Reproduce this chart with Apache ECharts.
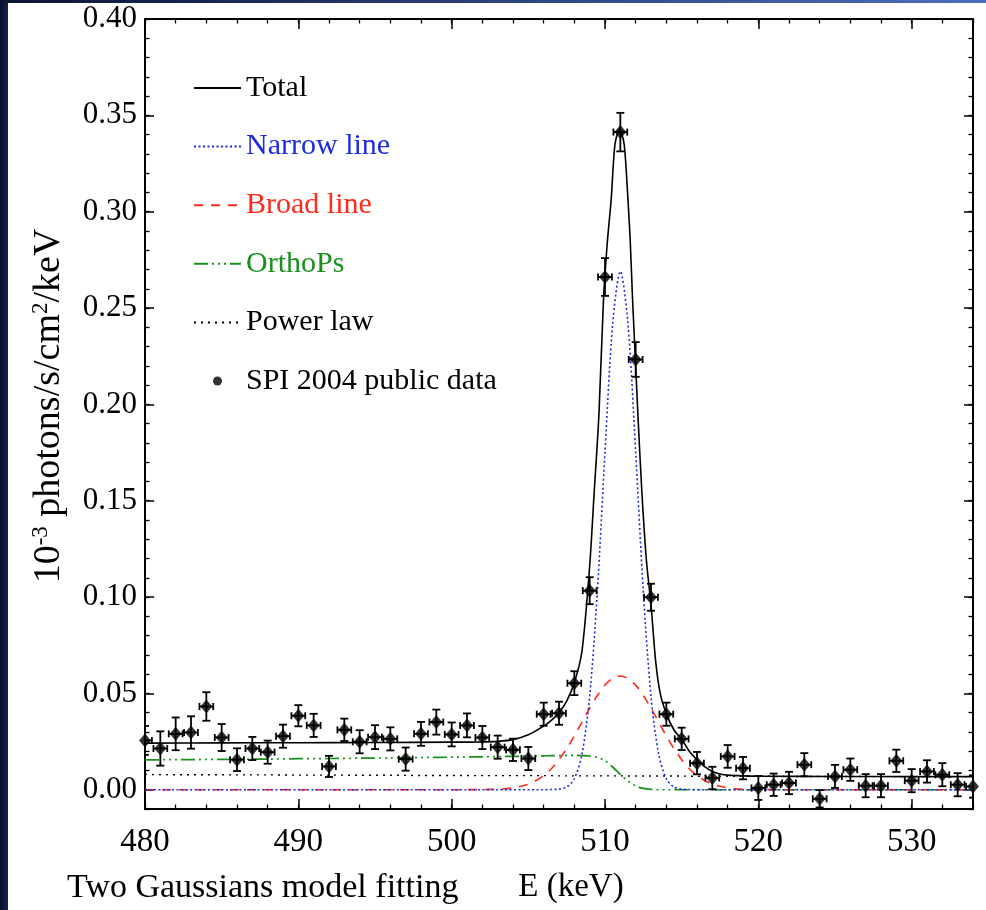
<!DOCTYPE html>
<html>
<head>
<meta charset="utf-8">
<script src="https://cdn.jsdelivr.net/npm/echarts@6/dist/echarts.min.js"></script>
<style>
  html, body { margin: 0; padding: 0; background: #ffffff; }
  #chart { width: 986px; height: 910px; }
</style>
</head>
<body>
<div id="chart"></div>
<script>
// ---------- data ----------
const energies = [480,481,482,483,484,485,486,487,488,489,490,491,492,493,494,495,496,497,498,499,
  500,501,502,503,504,505,506,507,508,509,510,511,512,513,514,515,516,517,518,519,
  520,521,522,523,524,525,526,527,528,529,530,531,532,533,534];
const fluxes = [0.0256,0.0214,0.0290,0.0297,0.0432,0.0271,0.0156,0.0214,0.0195,0.0278,
  0.0384,0.0334,0.0121,0.0311,0.0249,0.0273,0.0264,0.0159,0.0290,0.0351,
  0.0287,0.0334,0.0271,0.0221,0.0207,0.0162,0.0392,0.0397,0.0553,0.1033,
  0.2661,0.3413,0.2233,0.0999,0.0392,0.0264,0.0138,0.0061,0.0173,0.0112,
  0.0009,0.0026,0.0035,0.0130,-0.0047,0.0069,0.0104,0.0021,0.0021,0.0150,
  0.0047,0.0095,0.0078,0.0026,0.0017];
const fluxErrors = [0.0075,0.0089,0.0085,0.0084,0.0074,0.0070,0.0059,0.0060,0.0060,0.0060,
  0.0055,0.0060,0.0055,0.0058,0.0060,0.0062,0.0060,0.0060,0.0062,0.0065,
  0.0062,0.0062,0.0060,0.0060,0.0058,0.0060,0.0060,0.0060,0.0062,0.0070,
  0.0098,0.0100,0.0090,0.0070,0.0060,0.0058,0.0058,0.0058,0.0059,0.0058,
  0.0062,0.0058,0.0058,0.0060,0.0045,0.0060,0.0058,0.0060,0.0060,0.0058,
  0.0060,0.0058,0.0060,0.0060,0.0058];
const binHalfWidth = 0.45;

const curveE = [480,482,484,486,488,490,492,494,496,498,500,502,
  503,503.5,504,504.5,505,505.5,506,506.5,507,507.5,508,508.5,509,509.5,510,510.5,511,
  511.5,512,512.5,513,513.5,514,514.5,515,515.5,516,516.5,517,517.5,518,518.5,519,
  520,522,524,526,528,530,532,534];
const narrowLine = [0,0,0,0,0,0,0,0,0,0,0,0,
  0,0,0,0,0,0,0,0.0001,0.0003,0.0014,0.0057,0.0185,0.0485,0.1026,0.1752,0.2417,0.2690,
  0.2417,0.1752,0.1026,0.0485,0.0185,0.0057,0.0014,0.0003,0.0001,0,0,0,0,0,0,0,
  0,0,0,0,0,0,0,0];
const broadLine = [0,0,0,0,0,0,0,0,0,0,0,0.0001,
  0.0003,0.0005,0.0010,0.0018,0.0029,0.0048,0.0074,0.0109,0.0156,0.0213,0.0279,0.0351,0.0423,0.0489,0.0543,0.0578,0.0590,
  0.0578,0.0543,0.0489,0.0423,0.0351,0.0279,0.0213,0.0156,0.0109,0.0074,0.0048,0.0029,0.0018,0.0010,0.0005,0.0003,
  0.0001,0,0,0,0,0,0,0];
const orthoPs = [0.0155,0.0156,0.0157,0.0158,0.0159,0.0161,0.0162,0.0164,0.0165,0.0167,0.0169,0.0171,
  0.0172,0.0173,0.0173,0.0174,0.0175,0.0175,0.0176,0.0177,0.0177,0.0178,0.0178,0.0177,0.0175,0.0168,0.0152,0.0118,0.0080,
  0.0045,0.0020,0.0007,0.0002,0,0,0,0,0,0,0,0,0,0,0,0,
  0,0,0,0,0,0,0,0];
const powerLaw = [0.0079,0.0078,0.0078,0.0077,0.0077,0.0076,0.0076,0.0075,0.0075,0.0074,0.0074,0.0073,
  0.0073,0.0073,0.0073,0.0073,0.0073,0.0073,0.0073,0.0073,0.0072,0.0072,0.0072,0.0072,0.0072,0.0072,0.0072,0.0072,0.0072,
  0.0071,0.0071,0.0071,0.0071,0.0071,0.0071,0.0071,0.0071,0.0070,0.0070,0.0070,0.0070,0.0070,0.0070,0.0070,0.0070,
  0.0070,0.0069,0.0069,0.0069,0.0068,0.0068,0.0068,0.0068];

const totalE = [480,485,490,495,500,502,503,504,505,506,506.5,507,507.5,508,508.5,509,509.3,509.6,509.9,510.15,
  510.4,510.65,510.95,511.25,511.5,511.65,511.8,512,512.15,512.4,512.7,513,513.3,513.6,514,514.5,515,515.5,516,516.5,
  517,517.5,518,519,520,525,530,534];
const totalV = [0.0242,0.0243,0.0244,0.0245,0.0247,0.0248,0.0251,0.0260,0.0285,0.0330,0.0360,0.0400,0.0460,0.0555,0.0720,0.1160,0.1550,0.1940,0.2540,0.2840,
  0.3060,0.3350,0.3430,0.3350,0.3060,0.2840,0.2540,0.2200,0.1940,0.1550,0.1190,0.0960,0.0670,0.0500,0.0395,0.0310,0.0262,0.0200,0.0156,0.0120,
  0.0095,0.0082,0.0076,0.0072,0.0070,0.0069,0.0068,0.0068];

const xMajorTicks = [480,490,500,510,520,530];
const yMajorTicks = [0,0.05,0.10,0.15,0.20,0.25,0.30,0.35,0.40];

// ---------- styling ----------
const SERIF = '"Liberation Serif", "DejaVu Serif", serif';
const BLUE = '#1f2be0';
const RED = '#ff2a1a';
const GREEN = '#17901c';

const zip = (a, b) => a.map((v, i) => [v, b[i]]);

function minorX(pos) {
  return { type:'value', position:pos, min:480, max:534, interval:2,
    axisLine:{show:true, onZero:false, lineStyle:{color:'#000', width:2}},
    axisTick:{show:true, inside:true, length:4.5, lineStyle:{color:'#000', width:1.3}},
    axisLabel:{show:false}, splitLine:{show:false} };
}
function majorX(pos, labels) {
  const ax = { type:'value', position:pos, min:480, max:534,
    axisLine:{show:false, onZero:false},
    axisTick:{show:true, inside:true, length:10, customValues:xMajorTicks, lineStyle:{color:'#000', width:1.5}},
    axisLabel:{show:labels, customValues:xMajorTicks, margin:17, color:'#000', fontFamily:SERIF, fontSize:33},
    splitLine:{show:false} };
  if (labels) {
    ax.name = 'E (keV)';
    ax.nameLocation = 'middle';
    ax.nameGap = 62;
    ax.nameTextStyle = {color:'#000', fontFamily:SERIF, fontSize:33, padding:[0,0,0,24]};
  }
  return ax;
}
function minorY(pos) {
  return { type:'value', position:pos, min:-0.01, max:0.40, interval:0.01,
    axisLine:{show:true, onZero:false, lineStyle:{color:'#000', width:2}},
    axisTick:{show:true, inside:true, length:4.5, lineStyle:{color:'#000', width:1.3}},
    axisLabel:{show:false}, splitLine:{show:false} };
}
function majorY(pos, labels) {
  const ax = { type:'value', position:pos, min:-0.01, max:0.40,
    axisLine:{show:false, onZero:false},
    axisTick:{show:true, inside:true, length:9, customValues:yMajorTicks, lineStyle:{color:'#000', width:1.5}},
    axisLabel:{show:labels, customValues:yMajorTicks, margin:8, color:'#000', fontFamily:SERIF, fontSize:31,
      formatter: v => v.toFixed(2)},
    splitLine:{show:false} };
  if (labels) {
    ax.name = '10{sup|-3} photons/s/cm{sup|2}/keV';
    ax.nameLocation = 'middle';
    ax.nameRotate = 90;
    ax.nameGap = 76;
    ax.nameTextStyle = {color:'#000', fontFamily:SERIF, fontSize:38, lineHeight:40, padding:[0,0,0,16],
      rich:{ sup:{fontFamily:SERIF, fontSize:23, lineHeight:24, verticalAlign:'top', color:'#000'} } };
  }
  return ax;
}

const chart = echarts.init(document.getElementById('chart'), null, {renderer:'canvas'});

const hideSym = {opacity:0};
const option = {
  backgroundColor:'#ffffff',
  animation:false,
  title:{ text:'Two Gaussians model fitting', left:62, top:866,
    textStyle:{color:'#000', fontFamily:SERIF, fontSize:34, fontWeight:'normal'} },
  graphic:[
    { type:'rect', left:0, top:0, shape:{width:8, height:910}, z:100,
      style:{ fill:new echarts.graphic.LinearGradient(0,0,1,0,[{offset:0,color:'#08102c'},{offset:1,color:'#142650'}]) } },
    { type:'rect', left:0, top:0, shape:{width:986, height:3}, z:100,
      style:{ fill:new echarts.graphic.LinearGradient(0,0,1,0,[{offset:0,color:'#0a1434'},{offset:1,color:'#4e6fbe'}]) } }
  ],
  grid:{ left:145, right:13, top:19, bottom:101, outerBoundsMode:'none', containLabel:false },
  legend:{
    orient:'vertical', left:193, top:73, padding:0,
    itemWidth:47, itemHeight:9, itemGap:28.6,
    textStyle:{ fontFamily:SERIF, fontSize:30, lineHeight:30, color:'#000' },
    selectedMode:false,
    data:[
      {name:'Total', itemStyle:hideSym},
      {name:'Narrow line', itemStyle:hideSym, textStyle:{color:BLUE}},
      {name:'Broad line', itemStyle:hideSym, textStyle:{color:RED}},
      {name:'OrthoPs', itemStyle:hideSym, textStyle:{color:GREEN}},
      {name:'Power law', itemStyle:hideSym},
      {name:'SPI 2004 public data', icon:'circle', itemStyle:{color:'#000'}}
    ]
  },
  xAxis:[ minorX('bottom'), majorX('bottom', true), minorX('top'), majorX('top', false) ],
  yAxis:[ minorY('left'), majorY('left', true), minorY('right'), majorY('right', false) ],
  series:[
    { name:'Power law', type:'line', data:zip(curveE, powerLaw), symbol:'none', smooth:0.3, z:2,
      lineStyle:{color:'#000', width:1.4, type:[2,5]}, itemStyle:{color:'#000'} },
    { name:'OrthoPs', type:'line', data:zip(curveE, orthoPs), symbol:'none', smooth:0.3, z:2,
      lineStyle:{color:GREEN, width:1.7, type:[14,4,2,4,2,4,2,4]}, itemStyle:{color:GREEN} },
    { name:'Broad line', type:'line', data:zip(curveE, broadLine), symbol:'none', smooth:0.3, z:2,
      lineStyle:{color:RED, width:1.6, type:[9,8]}, itemStyle:{color:RED} },
    { name:'Narrow line', type:'line', data:zip(curveE, narrowLine), symbol:'none', smooth:0.3, z:2,
      lineStyle:{color:BLUE, width:1.6, type:[2,2.5]}, itemStyle:{color:BLUE} },
    { name:'Total', type:'line', data:zip(totalE, totalV), symbol:'none', smooth:0.25, z:3,
      lineStyle:{color:'#000', width:1.6, type:'solid'}, itemStyle:{color:'#000'} },
    { name:'errors', type:'custom', z:4, clip:true,
      data: energies.map((e, i) => [e, fluxes[i], fluxErrors[i], binHalfWidth]),
      renderItem:(params, api) => {
        const x = api.value(0), y = api.value(1), err = api.value(2), hw = api.value(3);
        const c = api.coord([x, y]);
        const top = api.coord([x, y + err]);
        const bot = api.coord([x, y - err]);
        const lft = api.coord([x - hw, y]);
        const rgt = api.coord([x + hw, y]);
        const st = {stroke:'#000', lineWidth:1.8};
        const cap = 4, hcap = 3.5;
        return { type:'group', children:[
          {type:'line', shape:{x1:c[0], y1:top[1], x2:c[0], y2:bot[1]}, style:st},
          {type:'line', shape:{x1:c[0]-cap, y1:top[1], x2:c[0]+cap, y2:top[1]}, style:st},
          {type:'line', shape:{x1:c[0]-cap, y1:bot[1], x2:c[0]+cap, y2:bot[1]}, style:st},
          {type:'line', shape:{x1:lft[0], y1:c[1], x2:rgt[0], y2:c[1]}, style:st},
          {type:'line', shape:{x1:lft[0], y1:c[1]-hcap, x2:lft[0], y2:c[1]+hcap}, style:st},
          {type:'line', shape:{x1:rgt[0], y1:c[1]-hcap, x2:rgt[0], y2:c[1]+hcap}, style:st}
        ]};
      } },
    { name:'SPI 2004 public data', type:'scatter', z:5, clip:true,
      data:zip(energies, fluxes), symbol:'diamond', symbolSize:[12,14],
      itemStyle:{color:'#000'} }
  ]
};
chart.setOption(option);
</script>
</body>
</html>
